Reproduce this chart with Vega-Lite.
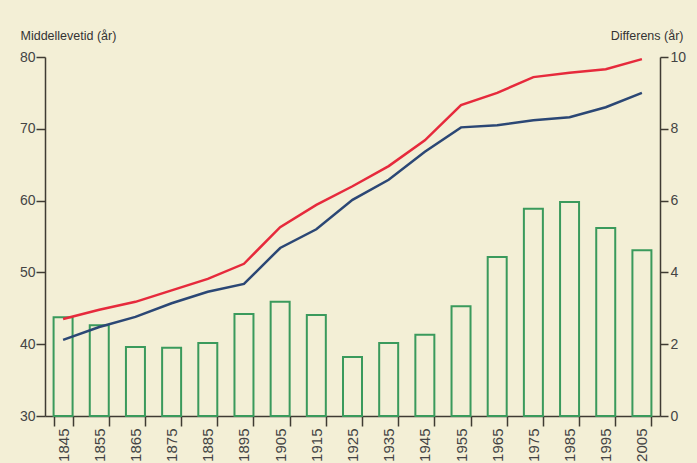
{
  "$schema": "https://vega.github.io/schema/vega-lite/v6.json",
  "width": 615,
  "height": 359,
  "autosize": "none",
  "padding": {"left": 45, "top": 57, "right": 37, "bottom": 47},
  "background": "#f3efd6",
  "config": {
    "view": {"stroke": null},
    "font": "Liberation Sans",
    "axis": {
      "domainColor": "#3f3b33",
      "domainWidth": 1.5,
      "tickColor": "#3f3b33",
      "tickWidth": 1.5,
      "labelColor": "#444444",
      "labelFont": "Liberation Sans",
      "labelFontSize": 14,
      "grid": false,
      "titleFont": "Liberation Sans",
      "titleFontWeight": "normal",
      "titleFontSize": 12.5,
      "titleColor": "#333333"
    }
  },
  "data": {
    "values": [
      {"year": "1845", "Kvinner": 43.5, "Menn": 40.6, "diff": 2.75},
      {"year": "1855", "Kvinner": 44.8, "Menn": 42.4, "diff": 2.53},
      {"year": "1865", "Kvinner": 45.9, "Menn": 43.8, "diff": 1.92},
      {"year": "1875", "Kvinner": 47.5, "Menn": 45.7, "diff": 1.9},
      {"year": "1885", "Kvinner": 49.1, "Menn": 47.3, "diff": 2.03},
      {"year": "1895", "Kvinner": 51.2, "Menn": 48.4, "diff": 2.84},
      {"year": "1905", "Kvinner": 56.3, "Menn": 53.4, "diff": 3.18},
      {"year": "1915", "Kvinner": 59.4, "Menn": 56.0, "diff": 2.81},
      {"year": "1925", "Kvinner": 62.0, "Menn": 60.1, "diff": 1.64},
      {"year": "1935", "Kvinner": 64.8, "Menn": 62.9, "diff": 2.03},
      {"year": "1945", "Kvinner": 68.4, "Menn": 66.8, "diff": 2.26},
      {"year": "1955", "Kvinner": 73.3, "Menn": 70.2, "diff": 3.06},
      {"year": "1965", "Kvinner": 75.0, "Menn": 70.5, "diff": 4.43},
      {"year": "1975", "Kvinner": 77.2, "Menn": 71.2, "diff": 5.77},
      {"year": "1985", "Kvinner": 77.8, "Menn": 71.6, "diff": 5.96},
      {"year": "1995", "Kvinner": 78.3, "Menn": 73.0, "diff": 5.24},
      {"year": "2005", "Kvinner": 79.7, "Menn": 75.0, "diff": 4.62}
    ]
  },
  "encoding": {
    "x": {
      "field": "year",
      "type": "ordinal",
      "scale": {"paddingInner": 0.475, "paddingOuter": 0.2375},
      "axis": {
        "title": null,
        "labelAngle": -90,
        "labelAlign": "right",
        "labelBaseline": "middle",
        "labelFontSize": 15,
        "tickSize": 10,
        "labelPadding": 2,
        "tickBand": "extent"
      }
    }
  },
  "layer": [
    {
      "mark": {"type": "bar", "filled": false, "color": "#3a9a5c", "strokeWidth": 2},
      "encoding": {
        "y": {
          "field": "diff",
          "type": "quantitative",
          "scale": {"domain": [0, 10], "nice": false},
          "axis": {
            "orient": "right",
            "values": [0, 2, 4, 6, 8, 10],
            "tickSize": 8,
            "labelPadding": 2,
            "title": "Differens (år)",
            "titleAngle": 0,
            "titleAlign": "right",
            "titleBaseline": "alphabetic",
            "titleX": 23,
            "titleY": -18
          }
        }
      }
    },
    {
      "transform": [{"fold": ["Kvinner", "Menn"], "as": ["kjonn", "value"]}],
      "mark": {"type": "line", "strokeWidth": 2.5},
      "encoding": {
        "y": {
          "field": "value",
          "type": "quantitative",
          "scale": {"domain": [30, 80], "nice": false},
          "axis": {
            "orient": "left",
            "values": [30, 40, 50, 60, 70, 80],
            "tickSize": 9,
            "labelPadding": 1,
            "title": "Middellevetid (år)",
            "titleAngle": 0,
            "titleAlign": "left",
            "titleBaseline": "alphabetic",
            "titleX": -25,
            "titleY": -18
          }
        },
        "color": {
          "field": "kjonn",
          "type": "nominal",
          "scale": {"domain": ["Kvinner", "Menn"], "range": ["#e62a3c", "#2b4775"]},
          "legend": null
        }
      }
    }
  ],
  "resolve": {"scale": {"y": "independent"}}
}
